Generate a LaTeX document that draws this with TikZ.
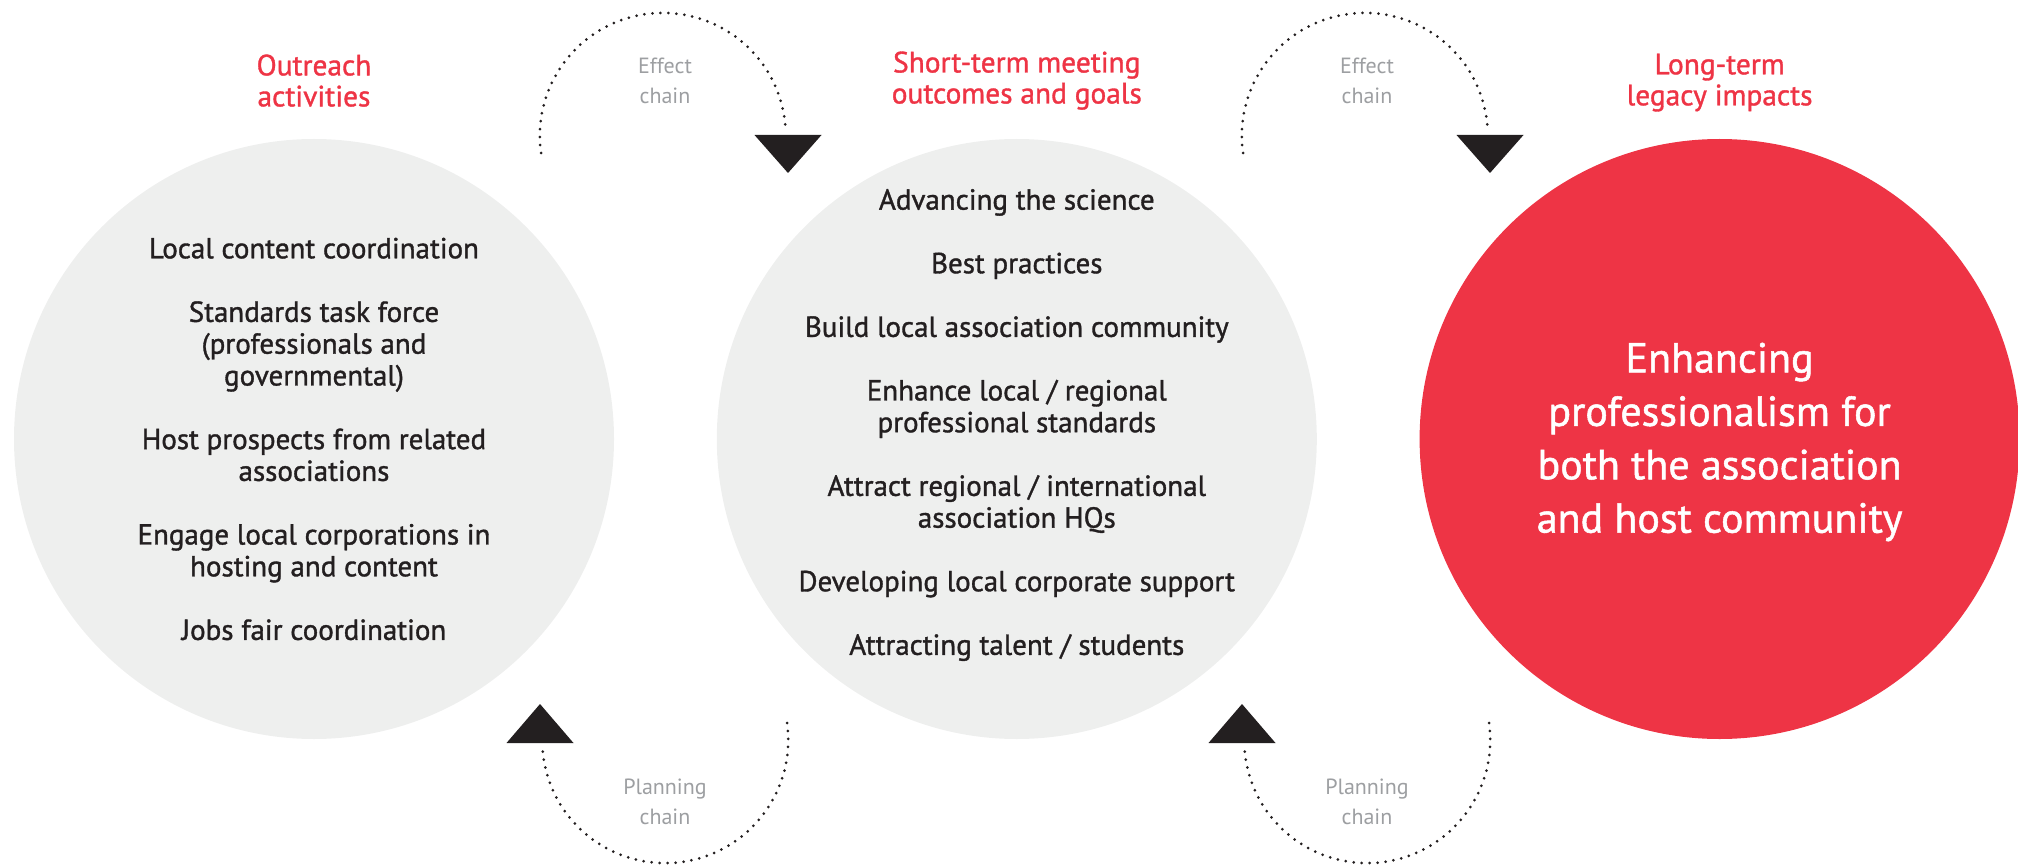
\documentclass[tikz,border=0pt]{standalone}
\usepackage{fontspec}
\setmainfont{PT Sans}
\newfontfamily\mediumfont{PT Sans}[FakeBold=1.2]
\usepackage{xcolor}
\usepackage{tikz}
\usetikzlibrary{positioning}
\definecolor{legacyred}{HTML}{EE3445}
\definecolor{discgray}{HTML}{EEEFEE}
\definecolor{inkdark}{HTML}{231F20}
\definecolor{chaingray}{HTML}{9D9FA2}
\tikzset{disc/.style={circle,fill=discgray,minimum size=300pt,inner sep=0pt},
         red disc/.style={disc,fill=legacyred},
         head/.style={text=legacyred,align=center,font=\mediumfont\fontsize{14.7}{15.5}\selectfont},
         items/.style={text=inkdark,align=center,font=\mediumfont\fontsize{14.5}{15.9}\selectfont},
         big text/.style={text=white,align=center,font=\mediumfont\fontsize{21}{26.7}\selectfont},
         chain/.style={draw=inkdark,line width=1.5pt,line cap=round,dash pattern=on 0pt off 4pt},
         chain label/.style={text=chaingray,align=center,font=\fontsize{11}{15}\selectfont},
         tip/.style={fill=inkdark},
            }

\begin{document}
\begin{tikzpicture}[x=0.5pt,y=-0.5pt]
    \useasboundingbox (0,0) rectangle (2018,866);

    % the three circles
    \node[disc] (outreach) at (314,439) {};
    \node[disc] (goals) [right=51pt of outreach] {};
    \node[red disc] (legacy) [right=51pt of goals] {};

    % headings
    \node[head] (outreachhead) at ([yshift=29pt]outreach.north) {Outreach\\activities};
    \node[head] (goalshead) at ([yshift=29pt]goals.north) {Short-term meeting\\outcomes and goals};
    \node[head] (legacyhead) at ([yshift=28pt]legacy.north) {Long-term\\legacy impacts};

    % circle contents
    \node[items] (outreachlist) at (outreach.center) {Local content coordination\\[15.9pt]
        Standards task force\\(professionals and\\governmental)\\[15.9pt]
        Host prospects from related\\associations\\[15.9pt]
        Engage local corporations in\\hosting and content\\[15.9pt]
        Jobs fair coordination};
    \node[items] (goalslist) at ([yshift=7pt]goals.center) {Advancing the science\\[15.9pt]
        Best practices\\[15.9pt]
        Build local association community\\[15.9pt]
        Enhance local / regional\\professional standards\\[15.9pt]
        Attract regional / international\\association HQs\\[15.9pt]
        Developing local corporate support\\[15.9pt]
        Attracting talent / students};
    \node[big text] (legacytext) at ([yshift=-1.5pt]legacy.center) {Enhancing\\professionalism for\\both the association\\and host community};

    % effect chains (top)
    \coordinate (effA) at (541,153);
    \coordinate (effAtip) at (788,173);
    \draw[chain] (effA) arc[start angle=172,end angle=358,radius=123];
    \fill[tip] (effAtip) -- ++(-33.5,-38) -- ++(67,0) -- cycle;
    \node[chain label] (effAlabel) at (665,81) {Effect\\chain};

    \coordinate (effB) at (1243,153);
    \coordinate (effBtip) at (1490,173);
    \draw[chain] (effB) arc[start angle=172,end angle=358,radius=123];
    \fill[tip] (effBtip) -- ++(-33.5,-38) -- ++(67,0) -- cycle;
    \node[chain label] (effBlabel) at (1367,81) {Effect\\chain};

    % planning chains (bottom)
    \coordinate (planA) at (787,723);
    \coordinate (planAtip) at (540,704);
    \draw[chain] (planA) arc[start angle=-8,end angle=176,radius=123];
    \fill[tip] (planAtip) -- ++(-33.5,39) -- ++(67,0) -- cycle;
    \node[chain label] (planAlabel) at (665,802) {Planning\\chain};

    \coordinate (planB) at (1489,723);
    \coordinate (planBtip) at (1242,704);
    \draw[chain] (planB) arc[start angle=-8,end angle=176,radius=123];
    \fill[tip] (planBtip) -- ++(-33.5,39) -- ++(67,0) -- cycle;
    \node[chain label] (planBlabel) at (1367,802) {Planning\\chain};

\end{tikzpicture}
\end{document}
